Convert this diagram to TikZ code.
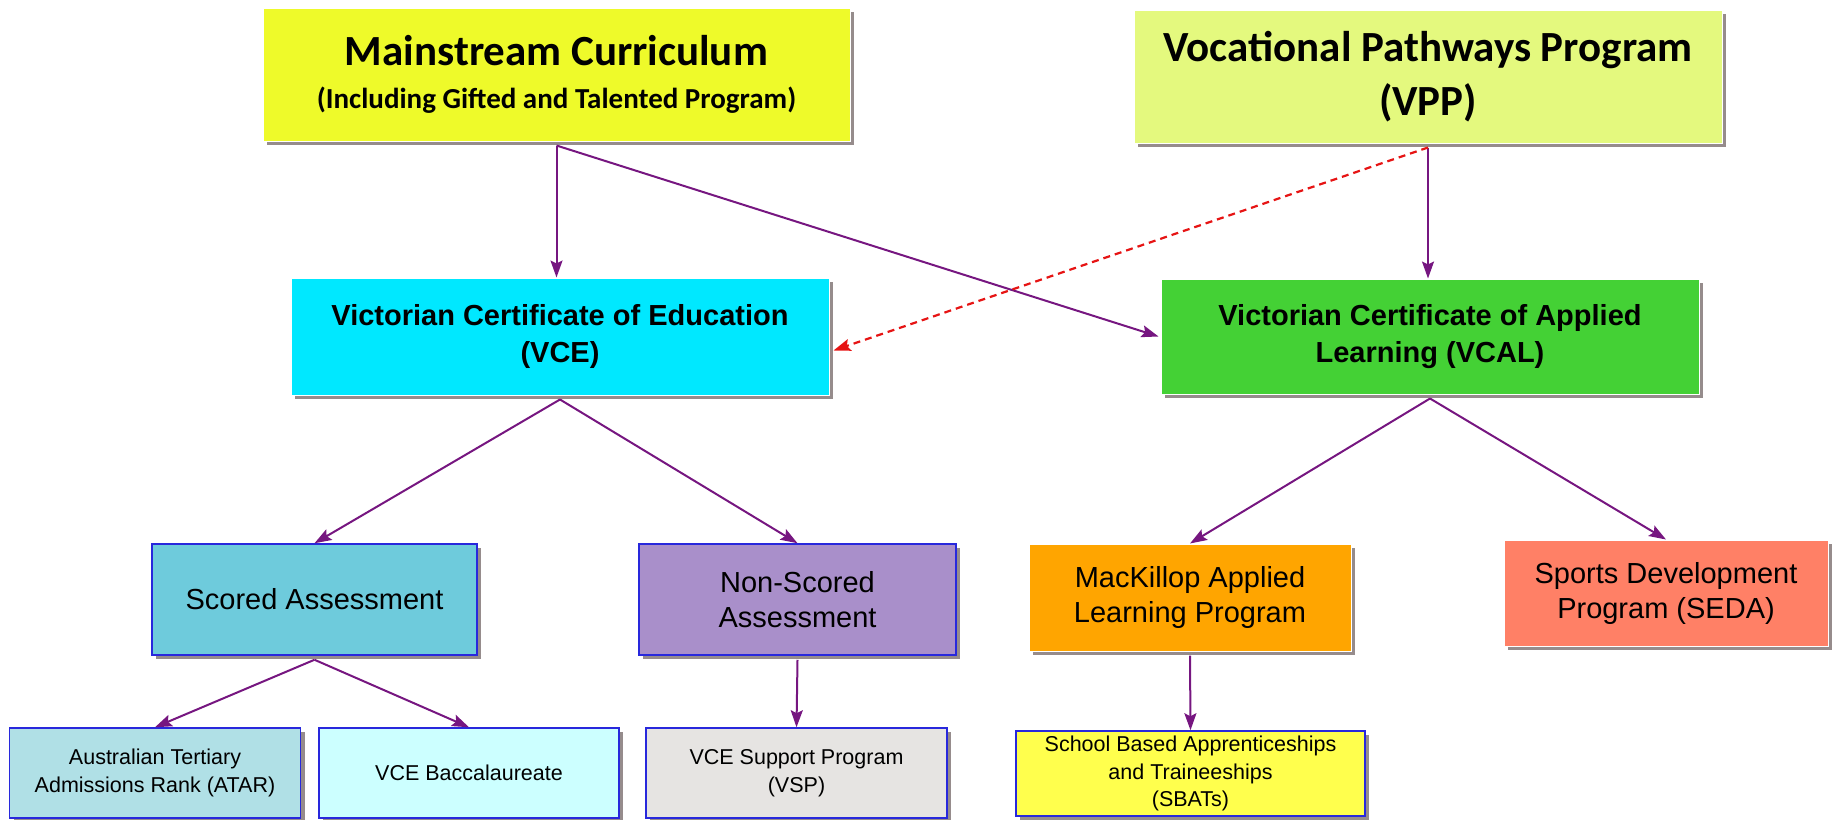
\documentclass[tikz,border=0pt]{standalone}
\usepackage{fontspec}
\setmainfont{Liberation Sans}
\newfontfamily\carlito{Carlito}
\usetikzlibrary{arrows.meta,shadows}

\definecolor{mcyellow}{RGB}{238,250,42}
\definecolor{vppgreen}{RGB}{228,249,126}
\definecolor{vcecyan}{RGB}{0,232,255}
\definecolor{vcalgreen}{RGB}{68,209,53}
\definecolor{sablue}{RGB}{110,203,220}
\definecolor{nsapurple}{RGB}{169,143,202}
\definecolor{malporange}{RGB}{255,165,0}
\definecolor{sdpsalmon}{RGB}{255,128,102}
\definecolor{atarblue}{RGB}{176,224,230}
\definecolor{vbcyan}{RGB}{204,255,255}
\definecolor{vspgrey}{RGB}{230,228,226}
\definecolor{sbatyellow}{RGB}{255,255,77}
\definecolor{boxblue}{RGB}{40,40,220}
\definecolor{linkpurple}{RGB}{118,22,128}
\definecolor{dashred}{RGB}{230,20,20}
\definecolor{shade}{RGB}{150,140,140}

\begin{document}
\begin{tikzpicture}[x=1pt,y=-1pt,
			box/.style={rectangle,inner sep=0pt,align=center,draw=white,line width=1pt,
				drop shadow={shadow xshift=4pt,shadow yshift=-4pt,fill=shade,opacity=1}},
			bluebox/.style={box,draw=boxblue,line width=1.5pt},
			topfont/.style={font=\carlito\bfseries\fontsize{43}{54}\selectfont},
			midfont/.style={font=\bfseries\fontsize{29}{37}\selectfont},
			lowfont/.style={font=\fontsize{29}{35}\selectfont},
			leaffont/.style={font=\fontsize{21.5}{27.5}\selectfont},
			link/.style={draw=linkpurple,line width=2pt,
				-{Stealth[length=17pt,width=12pt,inset=3pt]}},
			maybe/.style={link,draw=dashred,line width=2.2pt,dash pattern=on 7pt off 5pt,
				-{Stealth[length=17pt,width=12pt,inset=3pt,fill=dashred]}}]
\useasboundingbox (0,0) rectangle (1833,819);

%% the two entry programs
\node[box,fill=mcyellow,minimum width=587pt,minimum height=133pt,
	font=\carlito\bfseries\fontsize{29}{43}\selectfont] (MC) at (556.5,74.5)
	{{\fontsize{43}{45}\selectfont Mainstream Curriculum}\\(Including Gifted and Talented Program)};
\node[box,topfont,fill=vppgreen,minimum width=588pt,minimum height=133pt] (VPP) at (1428,76.5)
	{Vocational Pathways Program\\(VPP)};

%% certificates
\node[box,midfont,fill=vcecyan,minimum width=538pt,minimum height=117pt] (VCE) at (560,336.5)
	{Victorian Certificate of Education\\(VCE)};
\node[box,midfont,fill=vcalgreen,minimum width=538pt,minimum height=115pt] (VCAL) at (1430,336.5)
	{Victorian Certificate of Applied\\Learning (VCAL)};

%% streams
\node[bluebox,lowfont,fill=sablue,minimum width=325pt,minimum height=111pt] (SA) at (314.5,599.5)
	{Scored Assessment};
\node[bluebox,lowfont,fill=nsapurple,minimum width=317pt,minimum height=111pt] (NSA) at (797.5,599.5)
	{Non-Scored\\Assessment};
\node[box,lowfont,fill=malporange,minimum width=322pt,minimum height=107pt] (MALP) at (1190,597.5)
	{MacKillop Applied\\Learning Program};
\node[box,lowfont,fill=sdpsalmon,minimum width=324pt,minimum height=106pt] (SDP) at (1666,593)
	{Sports Development\\Program (SEDA)};

%% bottom row
\node[bluebox,leaffont,fill=atarblue,minimum width=291pt,minimum height=90pt] (ATAR) at (155,773)
	{Australian Tertiary\\Admissions Rank (ATAR)};
\node[bluebox,leaffont,fill=vbcyan,minimum width=300pt,minimum height=90pt] (VB) at (469,773)
	{VCE Baccalaureate};
\node[bluebox,leaffont,fill=vspgrey,minimum width=301pt,minimum height=90pt] (VSP) at (796.5,773)
	{VCE Support Program\\(VSP)};
\node[bluebox,leaffont,fill=sbatyellow,minimum width=349pt,minimum height=85pt] (SBAT) at (1190.5,773.5)
	{School Based Apprenticeships\\and Traineeships\\(SBATs)};

\draw[link] ([yshift=-4pt]MC.south) -- (MC.south |- VCE.north);
\draw[link] ([yshift=-4pt]MC.south) -- ([xshift=-2pt]VCAL.west);
\draw[link] ([yshift=-4pt]VPP.south) -- (VPP.south |- VCAL.north);
\draw[maybe] ([yshift=-4pt]VPP.south) -- ([xshift=4pt,yshift=-14pt]VCE.east);
\draw[link] ([yshift=-4pt]VCE.south) -- (SA.north);
\draw[link] ([yshift=-4pt]VCE.south) -- (NSA.north);
\draw[link] ([yshift=-4pt]VCAL.south) -- (MALP.north);
\draw[link] ([yshift=-4pt]VCAL.south) -- (SDP.north);
\draw[link] ([yshift=-4pt]SA.south) -- (ATAR.north);
\draw[link] ([yshift=-4pt]SA.south) -- (VB.north);
\draw[link] ([yshift=-4pt]NSA.south) -- (VSP.north);
\draw[link] ([yshift=-4pt]MALP.south) -- (SBAT.north);
\end{tikzpicture}
\end{document}
